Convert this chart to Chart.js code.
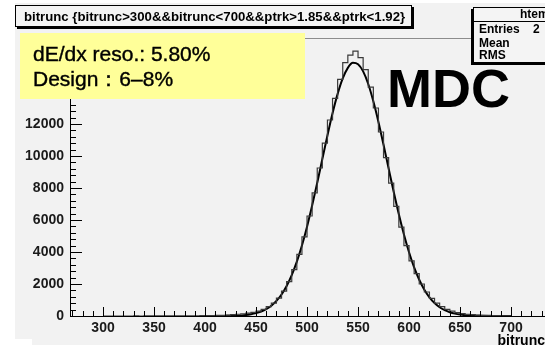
<!DOCTYPE html>
<html>
<head>
<meta charset="utf-8">
<script src="https://cdn.jsdelivr.net/npm/chart.js@4.4.1/dist/chart.umd.min.js"></script>
<style>
  html, body { margin: 0; padding: 0; background: #fff; }
  #wrap { position: relative; width: 545px; height: 345px; overflow: hidden; font-family: "Liberation Sans", Arial, sans-serif; }
  #bg { position: absolute; left: 15px; top: 3px; width: 530px; height: 342px; background: #f2f2f2; }
  #bgcut { position: absolute; left: 0; top: 339px; width: 32px; height: 6px; background: #fff; }
  #chartBox { position: absolute; left: 0; top: 0; width: 545px; height: 345px; }
  .box { position: absolute; background: #f4f4f4; border: 1px solid #000; color: #000; }
  #title { left: 15px; top: 5px; width: 397px; height: 22px; box-shadow: 2px 2px 0 #000; font-size: 13.2px; font-weight: bold; line-height: 21px; padding-left: 8px; box-sizing: border-box; white-space: nowrap; }
  #stats { left: 473px; top: 7px; width: 90px; height: 54px; box-shadow: -2px 2px 0 #000; font-size: 12px; font-weight: bold; }
  #stats .head { height: 13px; border-bottom: 1px solid #000; line-height: 13px; padding-left: 46px; }
  #stats .row { position: absolute; left: 5px; line-height: 12px; }
  #reso { position: absolute; left: 20px; top: 33px; width: 285px; height: 66px; background: #ffff99; }
  #reso div { position: absolute; left: 13px; font-size: 21px; line-height: 24px; -webkit-text-stroke: 0.4px #000; white-space: nowrap; }
  #mdc { position: absolute; left: 387px; top: 58px; font-size: 54px; font-weight: bold; line-height: 60px; }
  #xtitle { position: absolute; right: 0px; top: 332px; font-size: 14px; font-weight: bold; line-height: 16px; }
</style>
</head>
<body>
<div id="wrap">
  <div id="bg"></div>
  <div id="bgcut"></div>
  <div id="chartBox"><canvas id="histo" width="545" height="345"></canvas></div>
  <div id="title" class="box">bitrunc {bitrunc&gt;300&amp;&amp;bitrunc&lt;700&amp;&amp;ptrk&gt;1.85&amp;&amp;ptrk&lt;1.92}</div>
  <div id="stats" class="box">
    <div class="head">htemp</div>
    <div class="row" style="top:15px">Entries&nbsp;&nbsp;&nbsp;&nbsp;2</div>
    <div class="row" style="top:29px">Mean</div>
    <div class="row" style="top:41px">RMS</div>
  </div>
  <div id="reso">
    <div style="top:9px">dE/dx reso.: 5.80%</div>
    <div style="top:34px">Design：6–8%</div>
  </div>
  <div id="mdc">MDC</div>
  <div id="xtitle">bitrunc</div>
</div>
<script>
// histogram bins (lower edge), width 5
const binLow = [
  300, 305, 310, 315, 320, 325, 330, 335, 340, 345,
  350, 355, 360, 365, 370, 375, 380, 385, 390, 395,
  400, 405, 410, 415, 420, 425, 430, 435, 440, 445,
  450, 455, 460, 465, 470, 475, 480, 485, 490, 495,
  500, 505, 510, 515, 520, 525, 530, 535, 540, 545,
  550, 555, 560, 565, 570, 575, 580, 585, 590, 595,
  600, 605, 610, 615, 620, 625, 630, 635, 640, 645,
  650, 655, 660, 665, 670, 675, 680, 685, 690, 695
];
const binCounts = [
  0, 0, 0, 1, 0, 1, 2, 1, 3, 2,
  4, 3, 5, 6, 8, 7, 10, 12, 15, 18,
  20, 25, 35, 45, 60, 80, 110, 140, 180, 230,
  300, 420, 580, 800, 1120, 1560, 2150, 2900, 3850, 4950,
  6250, 7700, 9250, 10800, 12250, 13600, 14790, 15830, 16310, 16560,
  16150, 15400, 14300, 13000, 11500, 9900, 8300, 6850, 5550, 4400,
  3450, 2650, 2000, 1500, 1100, 800, 580, 420, 300, 210,
  150, 110, 80, 60, 45, 35, 25, 20, 15, 10
];
const histHigh = 700;

// gaussian fit curve, sampled
const fitX = [
  410, 420, 430, 440, 445, 450, 455, 460, 465, 470, 475, 480, 485, 490, 495,
  500, 505, 510, 515, 520, 525, 530, 535, 540, 545, 550, 555, 560, 565, 570,
  575, 580, 585, 590, 595, 600, 605, 610, 615, 620, 625, 630, 635, 640, 645,
  650, 655, 660, 670, 680, 690, 700
];
const fitY = [
  2, 7, 23, 67, 110, 178, 280, 429, 643, 942, 1346, 1877, 2555, 3397, 4407,
  5582, 6900, 8328, 9811, 11284, 12676, 13883, 14851, 15510, 15821, 15737, 15288, 14499, 13418, 12129,
  10701, 9216, 7747, 6357, 5092, 3983, 3039, 2265, 1648, 1170, 812, 549, 363, 234, 147,
  90, 54, 32, 10, 3, 1, 0
];

const xTickLabels = [300, 350, 400, 450, 500, 550, 600, 650, 700];
const yTickLabels = [0, 2000, 4000, 6000, 8000, 10000, 12000, 14000, 16000];

const histPoints = binLow.map((e, i) => ({ x: e, y: binCounts[i] }));
histPoints.push({ x: histHigh, y: binCounts[binCounts.length - 1] });

const fitPoints = fitX.map((v, i) => ({ x: v, y: fitY[i] }));

// ROOT-like inward ticks plus grey top frame
const rootTicks = {
  id: 'rootTicks',
  afterDatasetsDraw(chart) {
    const { ctx, chartArea: a, scales: { x, y } } = chart;
    ctx.save();
    ctx.strokeStyle = '#000';
    ctx.lineWidth = 1;
    ctx.beginPath();
    for (let v = 0; v <= y.max; v += 400) {
      const py = Math.round(y.getPixelForValue(v)) + 0.5;
      const len = v % 2000 === 0 ? 12 : 6;
      ctx.moveTo(a.left, py);
      ctx.lineTo(a.left + len, py);
    }
    for (let v = 270; v <= x.max; v += 10) {
      const px = Math.round(x.getPixelForValue(v)) + 0.5;
      const len = v % 50 === 0 ? 9 : 5;
      ctx.moveTo(px, a.bottom);
      ctx.lineTo(px, a.bottom - len);
    }
    ctx.stroke();
    ctx.strokeStyle = '#8c8c8c';
    ctx.beginPath();
    ctx.moveTo(a.left, a.top + 0.5);
    ctx.lineTo(a.right, a.top + 0.5);
    ctx.stroke();
    ctx.restore();
  }
};

const tickFont = { family: 'Liberation Sans', size: 14, weight: 'bold' };

new Chart(document.getElementById('histo'), {
  type: 'line',
  data: {
    datasets: [
      {
        data: histPoints,
        stepped: 'before',
        borderColor: '#3a3a3a',
        borderWidth: 1.2,
        pointRadius: 0,
        fill: false
      },
      {
        data: fitPoints,
        borderColor: '#000',
        borderWidth: 2,
        pointRadius: 0,
        cubicInterpolationMode: 'monotone',
        fill: false
      }
    ]
  },
  options: {
    responsive: false,
    animation: false,
    layout: { padding: { top: 38, right: 0, left: 0, bottom: 0 } },
    plugins: { legend: { display: false }, tooltip: { enabled: false } },
    scales: {
      x: {
        type: 'linear',
        min: 267.6,
        max: 733.3,
        grid: { display: false, drawTicks: false },
        border: { display: true, color: '#000', width: 1 },
        afterBuildTicks: s => { s.ticks = xTickLabels.map(v => ({ value: v })); },
        afterFit: s => { s.height = 29; },
        ticks: { font: tickFont, color: '#1a1a1a', padding: 4, maxRotation: 0, autoSkip: false, callback: v => String(v) }
      },
      y: {
        type: 'linear',
        min: 0,
        max: 17375,
        grid: { display: false, drawTicks: false },
        border: { display: true, color: '#000', width: 1 },
        afterBuildTicks: s => { s.ticks = yTickLabels.map(v => ({ value: v })); },
        afterFit: s => { s.width = 70; },
        ticks: { font: tickFont, color: '#1a1a1a', padding: 6, autoSkip: false, callback: v => String(v) }
      }
    }
  },
  plugins: [rootTicks]
});
</script>
</body>
</html>
